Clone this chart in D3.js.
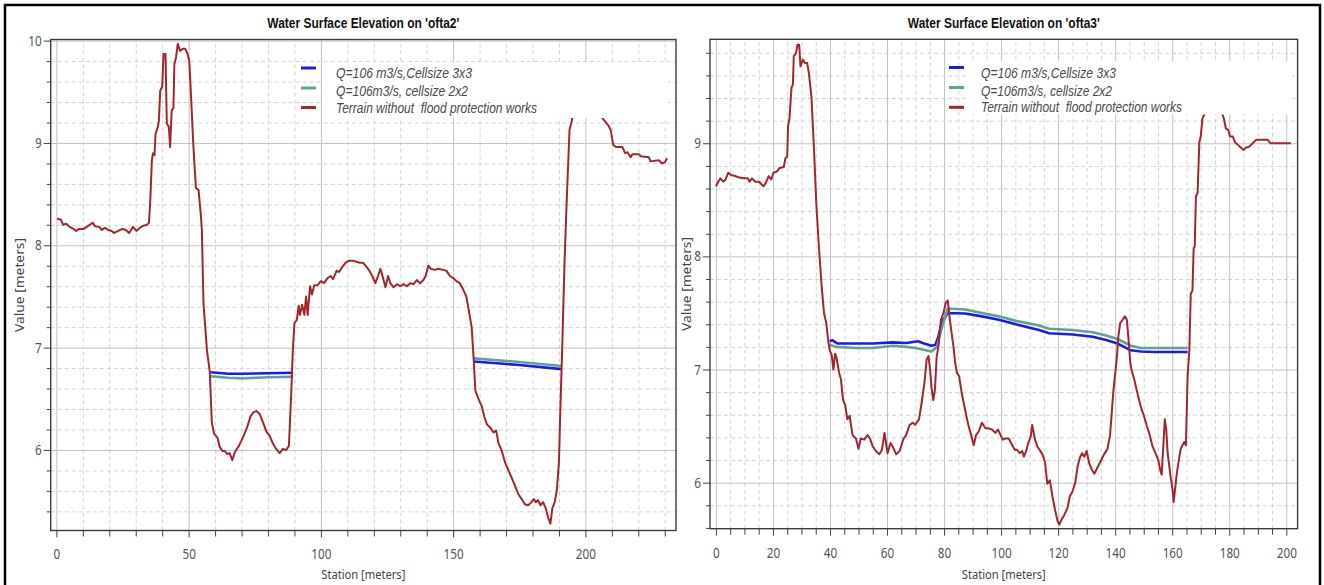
<!DOCTYPE html>
<html lang="en">
<head>
<meta charset="UTF-8">
<title>Water Surface Elevation</title>
<script src="https://d3js.org/d3.v7.min.js"></script>
<style>
  body { margin: 0; background: #fff; }
  svg { display: block; }
  .tick text { font-family: "Noto Sans", "Open Sans", sans-serif; font-size: 14px; fill: #555; }
  .legend text { font-family: "Liberation Sans", Arial, sans-serif; font-size: 14.5px; font-style: italic; fill: #4a4a4a; white-space: pre; }
  .title { font-family: "Liberation Sans", Arial, sans-serif; font-size: 15px; font-weight: bold; fill: #111; }
  .axis-title { font-family: "Noto Sans", "Open Sans", sans-serif; font-size: 13px; fill: #444; }
</style>
</head>
<body>
<svg id="chart" width="1324" height="585"></svg>
<script>
// ---- data: [station (m), elevation (m)] ----
const ofta2Terrain = [
  [0.25,8.26],[1.75,8.25],[2.5,8.2],[3.75,8.21],[5,8.18],[6.5,8.16],[7.5,8.14],[8.4,8.16],[10.25,8.16],[11.75,8.185],
  [13.75,8.22],[14.6,8.185],[16.25,8.18],[17.1,8.15],[18.4,8.17],[19.6,8.15],[20.9,8.14],[21.75,8.12],[23.4,8.14],[25,8.16],
  [26.25,8.15],[27.5,8.12],[29,8.18],[30.25,8.14],[31.5,8.17],[32.75,8.19],[34.25,8.2],[35,8.22],[35.5,8.44],[36.1,8.83],
  [36.5,8.9],[37.1,8.88],[37.5,9.09],[38.4,9.16],[38.75,9.22],[39.25,9.51],[40,9.55],[40.5,9.87],[41.25,9.87],[41.75,9.19],
  [42.5,9.16],[43,8.96],[43.6,9.32],[44.25,9.34],[44.6,9.77],[45.25,9.84],[45.9,9.97],[46.75,9.9],[47.75,9.92],[48.75,9.92],
  [49.6,9.87],[50.25,9.8],[50.9,9.46],[51.75,8.99],[52.75,8.56],[53.75,8.54],[54.6,8.3],[55,8.15],[55.6,7.44],[56.9,6.98],
  [58,6.76],[58.75,6.27],[59.6,6.16],[60.9,6.12],[61.75,6.03],[62.75,5.99],[63.75,5.99],[64.6,5.96],[65.5,5.97],[66.5,5.9],
  [67.5,5.98],[69,6.04],[70.5,6.12],[72.1,6.22],[73.4,6.33],[74.6,6.37],[75.6,6.38],[76.9,6.35],[78.1,6.27],[79.4,6.18],
  [80.6,6.14],[81.9,6.06],[83.1,6.01],[84.4,5.97],[85.6,6.01],[86.9,6.0],[87.9,6.04],[88.75,6.53],[89.4,6.98],[90,7.24],
  [90.9,7.27],[91.6,7.41],[92.1,7.32],[92.9,7.42],[93.75,7.32],[94.4,7.5],[95,7.32],[95.9,7.6],[96.6,7.52],[97.5,7.61],
  [98.75,7.61],[100,7.65],[101.25,7.63],[102.5,7.68],[103.75,7.7],[104.6,7.67],[105.9,7.75],[106.9,7.74],[108.1,7.79],[109.4,7.83],
  [110.6,7.85],[112.1,7.85],[113.4,7.84],[114.6,7.83],[115.9,7.83],[116.9,7.8],[118.1,7.76],[119.4,7.7],[120.6,7.63],[121.6,7.7],
  [122.5,7.77],[123.4,7.69],[124.4,7.59],[125.4,7.7],[126.25,7.63],[127.5,7.59],[128.75,7.62],[130,7.6],[131.25,7.62],[132.5,7.6],
  [133.75,7.63],[135,7.62],[136.25,7.66],[137.5,7.63],[138.75,7.66],[139.6,7.7],[140.6,7.8],[141.6,7.77],[143.1,7.76],[144.4,7.77],
  [146.25,7.76],[147.5,7.75],[148.75,7.7],[150,7.68],[151.25,7.65],[152.5,7.63],[153.75,7.57],[155,7.5],[155.6,7.41],[157,7.2],
  [157.75,6.89],[158.4,6.58],[159.6,6.5],[160.9,6.42],[161.75,6.33],[162.75,6.25],[164,6.22],[165.25,6.17],[166.25,6.19],[167.1,6.07],
  [168.4,5.99],[169.6,5.88],[170.9,5.8],[172.1,5.73],[173.4,5.65],[174.6,5.57],[175.9,5.52],[177.1,5.47],[178.4,5.46],[179.6,5.49],
  [180.5,5.52],[181.25,5.49],[182.1,5.51],[183,5.46],[184,5.49],[185,5.43],[185.9,5.34],[186.75,5.28],[187.5,5.43],[188.4,5.49],
  [189.25,5.62],[190,5.88],[190.5,6.37],[191.25,7.02],[192.1,7.83],[193,8.48],[194,9.13],[194.6,9.19],[195.25,9.26],[197,9.4],
  [200,9.45],[204,9.4],[206,9.3],[206.5,9.24],[208.75,9.17],[209.6,9.12],[210.5,8.98],[211.5,8.96],[214,8.96],[215,8.9],
  [215.9,8.91],[217.1,8.86],[217.75,8.89],[220.25,8.89],[220.9,8.87],[224,8.86],[224.6,8.82],[227.75,8.83],[229,8.8],[230,8.81],
  [230.9,8.85]
];
const ofta2Q3x3 = [
  [58.3,6.76],[65,6.745],[70,6.745],[80,6.75],[89.5,6.755], null,
  [157.8,6.865],[175,6.83],[191,6.79]
];
const ofta2Q2x2 = [
  [58.3,6.72],[65,6.705],[70,6.70],[80,6.71],[89.5,6.715], null,
  [157.8,6.895],[175,6.86],[191,6.82]
];

const ofta3Terrain = [
  [0,8.62],[0.8,8.66],[1.6,8.69],[2.6,8.66],[3.4,8.68],[4.35,8.74],[5.3,8.72],[6.7,8.71],[7.9,8.70],[9.6,8.69],
  [11.2,8.69],[11.8,8.66],[12.6,8.69],[13.8,8.66],[15.2,8.66],[15.9,8.64],[16.7,8.62],[17.5,8.65],[18.5,8.71],[19.4,8.68],
  [20.2,8.74],[21.4,8.75],[22.2,8.78],[23.8,8.79],[24.4,8.87],[25,8.88],[25.3,9.15],[25.8,9.22],[26.5,9.49],[27,9.52],
  [27.3,9.77],[28.1,9.8],[28.6,9.87],[29.2,9.87],[29.65,9.68],[30.5,9.74],[31.2,9.71],[32,9.71],[32.6,9.62],[33.5,9.41],
  [34.35,8.97],[35.2,8.47],[36.1,8.09],[37,7.76],[37.9,7.5],[38.7,7.41],[39.4,7.25],[39.9,7.17],[40.6,7.13],[41.2,7.0],
  [41.8,7.14],[42.35,7.1],[43.2,6.97],[43.8,6.92],[44.6,6.73],[45.3,6.69],[46.1,6.56],[46.9,6.59],[47.9,6.42],[49.1,6.39],
  [50,6.3],[50.8,6.39],[52,6.38],[53.2,6.42],[54,6.39],[55,6.32],[56.1,6.28],[57.3,6.25],[58.2,6.29],[59.1,6.44],
  [60.2,6.26],[61.2,6.35],[62,6.32],[63.2,6.25],[64.4,6.28],[65.8,6.39],[66.7,6.42],[67.9,6.51],[69.1,6.53],[69.8,6.51],
  [71.2,6.56],[72.1,6.70],[73.1,6.88],[73.9,7.09],[74.5,7.12],[75.1,7.0],[75.6,6.84],[76.2,6.73],[76.8,6.82],[77.4,7.11],
  [78,7.2],[78.9,7.44],[79.8,7.5],[80.6,7.59],[81.3,7.61],[81.9,7.47],[82.5,7.35],[83.3,7.2],[83.9,7.06],[84.5,6.97],
  [85.3,6.94],[86.2,6.79],[87.4,6.64],[88.6,6.5],[89.5,6.42],[90.4,6.33],[91.2,6.42],[92.1,6.45],[93.3,6.53],[94.5,6.48],
  [95.6,6.48],[96.8,6.47],[98,6.44],[98.9,6.47],[99.8,6.42],[100.6,6.38],[101.5,6.39],[102.7,6.39],[103.9,6.33],[104.8,6.29],
  [105.6,6.29],[106.5,6.26],[107.4,6.28],[108,6.23],[108.8,6.28],[109.5,6.35],[110.4,6.41],[110.9,6.51],[111.9,6.38],[112.7,6.32],
  [113.5,6.29],[114.5,6.25],[115.4,6.18],[116.2,5.99],[117.1,6.02],[118,5.88],[118.9,5.76],[119.8,5.66],[120.4,5.63],[121.3,5.68],
  [122.1,5.71],[123.3,5.78],[124.1,5.88],[125,5.92],[126,6.0],[126.8,6.14],[127.6,6.22],[128.4,6.26],[129.2,6.23],[130,6.28],
  [130.9,6.17],[131.9,6.11],[132.7,6.08],[133.9,6.14],[135.1,6.2],[136.1,6.25],[137.3,6.3],[138.2,6.42],[138.8,6.62],[139.4,6.82],
  [139.9,6.94],[140.6,7.11],[141.1,7.29],[141.75,7.41],[142.6,7.44],[143.4,7.47],[144.1,7.44],[144.6,7.29],[145.3,7.06],[145.7,7.0],
  [146.7,6.91],[147.8,6.79],[149,6.67],[150.2,6.58],[151.1,6.5],[151.9,6.44],[153.1,6.32],[154.3,6.25],[155.1,6.2],[155.8,6.11],
  [156.3,6.07],[157,6.38],[157.4,6.56],[157.9,6.47],[158.4,6.26],[159,6.14],[159.5,6.04],[160.1,5.94],[160.5,5.83],[160.9,5.92],
  [161.6,6.08],[162.5,6.23],[163,6.3],[163.6,6.33],[164.2,6.36],[164.8,6.33],[165.4,6.94],[166,7.17],[166.5,7.67],[167.1,7.7],
  [167.5,8.07],[167.9,8.09],[168.3,8.53],[168.9,8.56],[169.5,9.01],[170,9.06],[170.6,9.22],[171.2,9.25],[172.5,9.45],[174.5,9.5],
  [176.5,9.4],[177.7,9.25],[178.2,9.21],[178.8,9.13],[179.6,9.12],[180.3,9.06],[181.2,9.06],[182,9.01],[182.9,8.99],[184.1,8.96],
  [185,8.94],[185.8,8.96],[187,8.97],[188.2,9.0],[189.4,9.03],[191.1,9.03],[193.5,9.03],[194.4,9.0],[197,9.0],[201.6,9.0]
];
const ofta3Q3x3 = [
  [39.9,7.25],[40.8,7.26],[42.6,7.23],[49.1,7.23],[55,7.23],[62,7.24],[66.7,7.235],[70.9,7.25],[73,7.23],[75.6,7.21],
  [77,7.22],[78,7.29],[79.2,7.42],[81.3,7.50],[87.4,7.495],[93.3,7.47],[99.2,7.44],[105.1,7.40],[113.3,7.35],[116.8,7.32],
  [125.1,7.31],[132.1,7.29],[136.8,7.26],[140.8,7.23],[145.5,7.17],[149,7.16],[153.7,7.155],[165.4,7.155]
];
const ofta3Q2x2 = [
  [39.9,7.22],[42,7.2],[49.1,7.19],[55,7.19],[62,7.21],[66.7,7.20],[70,7.19],[75.6,7.16],[77.5,7.2],[79,7.35],
  [81.3,7.54],[87.4,7.53],[93.3,7.50],[99.2,7.47],[105.1,7.43],[113.3,7.39],[116.8,7.36],[125.1,7.35],[132.1,7.33],[136.8,7.30],
  [140.8,7.27],[145.5,7.21],[149,7.19],[165.4,7.19]
];

const ofta2XTicks = [0, 50, 100, 150, 200];
const ofta2YTicks = [6, 7, 8, 9, 10];
const ofta3XTicks = [0, 20, 40, 60, 80, 100, 120, 140, 160, 180, 200];
const ofta3YTicks = [6, 7, 8, 9];

const legendLabels = ["Q=106 m3/s,Cellsize 3x3", "Q=106m3/s, cellsize 2x2", "Terrain without  flood protection works"];
const seriesColors = ["#1c1ce8", "#62a09d", "#a3252e"];

const svg = d3.select("#chart");

// outer black frame of the figure
svg.append("path")
   .attr("d", "M5,590V5H1320V590")
   .attr("fill", "none")
   .attr("stroke", "#000")
   .attr("stroke-width", 2.5);

function drawPanel(p, idx) {
    const x = d3.scaleLinear().domain(p.xDomain).range([p.left, p.right]);
    const y = d3.scaleLinear().domain(p.yDomain).range([p.bottom, p.top]);
    const w = p.right - p.left, h = p.bottom - p.top;

    const xMinor = d3.range(0, p.xDomain[1], p.xMinorStep).filter(v => v % p.xMajorStep !== 0);
    const yMinor = d3.range(Math.ceil(p.yDomain[0] * 5), Math.floor(p.yDomain[1] * 5) + 1)
                     .filter(i => i % 5 !== 0).map(i => i / 5);

    const g = svg.append("g");

    // grid
    const grid = g.append("g");
    grid.append("g").attr("transform", `translate(0,${p.bottom})`)
        .call(d3.axisBottom(x).tickValues(xMinor).tickSize(-h).tickFormat(""))
        .call(s => s.select(".domain").remove())
        .selectAll("line").attr("stroke", "#d3d3d3").attr("stroke-dasharray", "4,3");
    grid.append("g").attr("transform", `translate(${p.left},0)`)
        .call(d3.axisLeft(y).tickValues(yMinor).tickSize(-w).tickFormat(""))
        .call(s => s.select(".domain").remove())
        .selectAll("line").attr("stroke", "#d3d3d3").attr("stroke-dasharray", "4,3");
    grid.append("g").attr("transform", `translate(0,${p.bottom})`)
        .call(d3.axisBottom(x).tickValues(p.xTicks).tickSize(-h).tickFormat(""))
        .call(s => s.select(".domain").remove())
        .selectAll("line").attr("stroke", "#c2c2c2");
    grid.append("g").attr("transform", `translate(${p.left},0)`)
        .call(d3.axisLeft(y).tickValues(p.yTicks).tickSize(-w).tickFormat(""))
        .call(s => s.select(".domain").remove())
        .selectAll("line").attr("stroke", "#c2c2c2");

    // series
    const clipId = "clip" + idx;
    svg.append("clipPath").attr("id", clipId)
       .append("rect").attr("x", p.left).attr("y", p.top).attr("width", w).attr("height", h);

    const line = d3.line()
        .defined(d => d !== null)
        .x(d => x(d[0]))
        .y(d => y(d[1]));

    const series = [
        { data: p.q3x3, color: seriesColors[0], width: 2.6 },
        { data: p.q2x2, color: seriesColors[1], width: 2.6 },
        { data: p.terrain, color: seriesColors[2], width: 2 }
    ];
    g.append("g").attr("clip-path", `url(#${clipId})`)
     .selectAll("path")
     .data(series)
     .enter()
     .append("path")
     .attr("d", d => line(d.data))
     .attr("fill", "none")
     .attr("stroke", d => d.color)
     .attr("stroke-width", d => d.width)
     .attr("stroke-linejoin", "round");

    // legend (white box hides grid and data underneath)
    const lg = g.append("g").attr("class", "legend");
    lg.append("rect")
      .attr("x", p.legend.boxLeft).attr("y", p.legend.boxTop)
      .attr("width", p.legend.boxRight - p.legend.boxLeft)
      .attr("height", p.legend.boxBottom - p.legend.boxTop)
      .attr("fill", "#fff");
    legendLabels.forEach((label, i) => {
        lg.append("line")
          .attr("x1", p.legend.markX).attr("x2", p.legend.markX + 15)
          .attr("y1", p.legend.markY[i]).attr("y2", p.legend.markY[i])
          .attr("stroke", seriesColors[i]).attr("stroke-width", 3);
        lg.append("text")
          .attr("x", p.legend.textX).attr("y", p.legend.baseY[i])
          .attr("textLength", p.legend.lengths[i])
          .attr("lengthAdjust", "spacingAndGlyphs")
          .text(label);
    });

    // plot frame
    g.append("rect")
     .attr("x", p.left).attr("y", p.top).attr("width", w).attr("height", h)
     .attr("fill", "none").attr("stroke", "#3d3d3d").attr("stroke-width", 1.4);

    // axes
    const axStyle = s => {
        s.select(".domain").remove();
        s.selectAll(".tick line").attr("stroke", "#444");
    };
    g.append("g").attr("transform", `translate(0,${p.bottom})`)
     .call(d3.axisBottom(x).tickValues(xMinor).tickSize(6).tickFormat(""))
     .call(axStyle);
    g.append("g").attr("transform", `translate(0,${p.bottom})`)
     .call(d3.axisBottom(x).tickValues(p.xTicks).tickSize(7).tickPadding(12).tickFormat(d3.format("d")))
     .call(axStyle)
     .selectAll("text").attr("transform", "scale(0.84,1)");
    g.append("g").attr("transform", `translate(${p.left},0)`)
     .call(d3.axisLeft(y).tickValues(yMinor).tickSize(4).tickFormat(""))
     .call(axStyle);
    g.append("g").attr("transform", `translate(${p.left},0)`)
     .call(d3.axisLeft(y).tickValues(p.yTicks).tickSize(7).tickFormat(d3.format("d")))
     .call(axStyle)
     .selectAll("text").attr("x", -9 / 0.84).attr("transform", "scale(0.84,1)");

    // titles
    const cx = (p.left + p.right) / 2;
    g.append("text").attr("class", "title")
     .attr("x", cx - 96).attr("y", 28.3)
     .attr("textLength", 192).attr("lengthAdjust", "spacingAndGlyphs")
     .text(p.title);
    g.append("text").attr("class", "axis-title")
     .attr("x", cx - 42).attr("y", 579)
     .attr("textLength", 84).attr("lengthAdjust", "spacingAndGlyphs")
     .text("Station [meters]");
    g.append("text").attr("class", "axis-title")
     .attr("transform", `translate(${p.yTitleX},${(p.top + p.bottom) / 2}) rotate(-90)`)
     .attr("x", -47).attr("y", 0)
     .attr("textLength", 94).attr("lengthAdjust", "spacingAndGlyphs")
     .text("Value [meters]");
}

drawPanel({
    left: 50.7, right: 676, top: 39.5, bottom: 530.5,
    xDomain: [-2.15, 234.25], yDomain: [5.213, 10.011],
    xTicks: ofta2XTicks, yTicks: ofta2YTicks, xMajorStep: 50, xMinorStep: 10,
    terrain: ofta2Terrain, q3x3: ofta2Q3x3, q2x2: ofta2Q2x2,
    title: "Water Surface Elevation on 'ofta2'",
    yTitleX: 24,
    legend: { boxLeft: 323, boxRight: 668, boxTop: 62, boxBottom: 118, markX: 301, textX: 336,
              markY: [68, 88, 107.5], baseY: [78.3, 95.7, 112.8], lengths: [136, 132, 201] }
}, 0);

drawPanel({
    left: 710, right: 1297.6, top: 39.3, bottom: 528.7,
    xDomain: [-2.07, 203.96], yDomain: [5.593, 9.919],
    xTicks: ofta3XTicks, yTicks: ofta3YTicks, xMajorStep: 20, xMinorStep: 5,
    terrain: ofta3Terrain, q3x3: ofta3Q3x3, q2x2: ofta3Q2x2,
    title: "Water Surface Elevation on 'ofta3'",
    yTitleX: 691,
    legend: { boxLeft: 966, boxRight: 1292, boxTop: 61, boxBottom: 114.5, markX: 949, textX: 981,
              markY: [67.5, 87.5, 107.3], baseY: [78.3, 95.7, 111.8], lengths: [135, 131, 201] }
}, 1);
</script>
</body>
</html>
